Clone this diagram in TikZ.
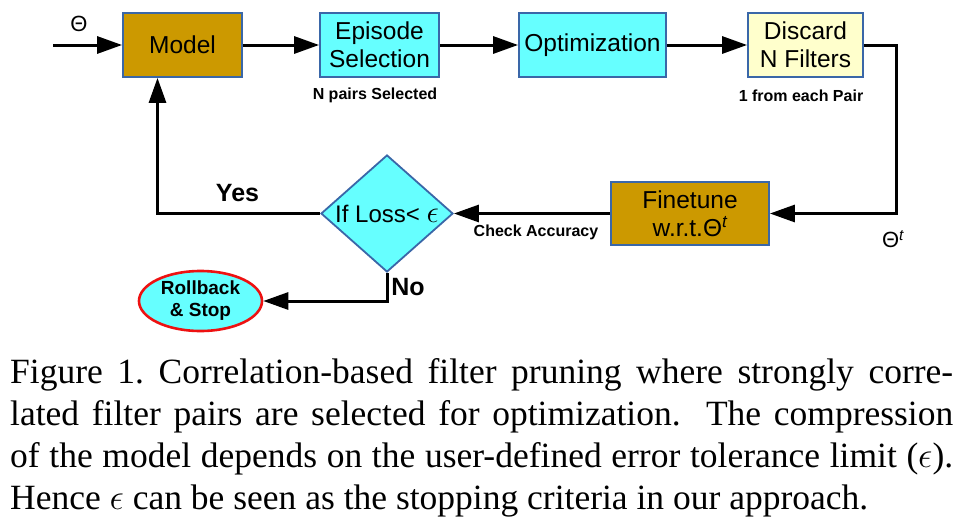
\documentclass[tikz,border=0pt]{standalone}
\usepackage{fontspec}
\setmainfont{Liberation Sans}
\newfontfamily\capfont{Liberation Serif}
\usetikzlibrary{shapes.geometric,arrows.meta}
\definecolor{goldfill}{HTML}{CC9900}
\definecolor{cyanfill}{HTML}{66FFFF}
\definecolor{yellowfill}{HTML}{FFFFCC}
\definecolor{bordc}{HTML}{3A67A8}
\definecolor{redc}{HTML}{EE1111}
\newcommand{\bigeps}{\scalebox{1.45}{$\epsilon$}}
\begin{document}
\begin{tikzpicture}[x=1pt,y=-1pt,
  box/.style={draw=bordc, line width=1.8pt, minimum height=64pt, inner sep=0pt, align=center, font=\fontsize{24.5}{28}\selectfont},
  arr/.style={line width=3pt, -{Triangle[length=25pt,width=17pt]}},
  small/.style={font=\fontsize{16}{19}\selectfont\bfseries},
  big/.style={font=\fontsize{25}{28}\selectfont\bfseries},
  thlab/.style={font=\fontsize{22}{24}\selectfont},
  capline/.style={anchor=base west, inner sep=0pt, font=\capfont\fontsize{35.5}{42}\selectfont}]
\useasboundingbox (0,0) rectangle (969,525);
\fill[white] (0,0) rectangle (969,525);

\node[box, fill=goldfill, minimum width=119pt] (model) at (182.5,45) {Model};
\node[box, fill=cyanfill, minimum width=119pt] (episode) at (379.5,45) {Episode\\Selection};
\node[box, fill=cyanfill, minimum width=147pt] (optim) at (592.5,45) {Optimization};
\node[box, fill=yellowfill, minimum width=115pt] (discard) at (805.5,45) {Discard\\N Filters};
\node[box, fill=goldfill, minimum width=158pt, minimum height=63pt] (finetune) at (690,213.5) {Finetune\\w.r.t.Θ\textsuperscript{\itshape t}};
\node[draw=bordc, line width=1.8pt, fill=cyanfill, shape=diamond, minimum width=132pt, minimum height=117pt, inner sep=0pt,
  label={[font=\fontsize{24}{28}\selectfont]center:If Loss< \scalebox{1.25}{$\epsilon$}}] (diamond) at (387,213.5) {};
\node[draw=redc, line width=2.6pt, fill=cyanfill, shape=ellipse, minimum width=123pt, minimum height=60pt, inner sep=0pt,
  align=center, font=\fontsize{19}{22}\selectfont\bfseries] (roll) at (200.5,301) {Rollback\\\& Stop};

\coordinate (in) at (53,45);
\coordinate (corner) at (896,213.5);

\draw[arr] (in) -- (model);
\draw[arr] (model) -- (episode);
\draw[arr] (episode) -- (optim);
\draw[arr] (optim) -- (discard);
\draw[arr] (discard.east) -| (corner) -- (finetune.east);
\draw[arr] (finetune) -- (diamond);
\draw[arr] (diamond.west) -| ([xshift=-25pt]model.south);
\draw[arr] (diamond.south) |- (roll.east);

\node[thlab] (theta) at (79,24) {Θ};
\node[thlab] (thetat) at (893,239) {Θ\textsuperscript{\itshape t}};
\node[small] (npairs) at (375,95) {N pairs Selected};
\node[small] (onefrom) at (801,96) {1 from each Pair};
\node[small] (check) at (536,232) {Check Accuracy};
\node[big] (yes) at (237.5,193) {Yes};
\node[big] (no) at (408,287) {No};

\node[capline] (c1) at (10,383) {\makebox[943pt][s]{Figure 1.\ Correlation-based filter pruning where strongly corre-}};
\node[capline] (c2) at (10,425) {\makebox[943pt][s]{lated filter pairs are selected for optimization.\ \ The compression}};
\node[capline] (c3) at (10,467) {\makebox[943pt][s]{of the model depends on the user-defined error tolerance limit (\bigeps).}};
\node[capline] (c4) at (10,509) {Hence \bigeps\ can be seen as the stopping criteria in our approach.};
\end{tikzpicture}
\end{document}
